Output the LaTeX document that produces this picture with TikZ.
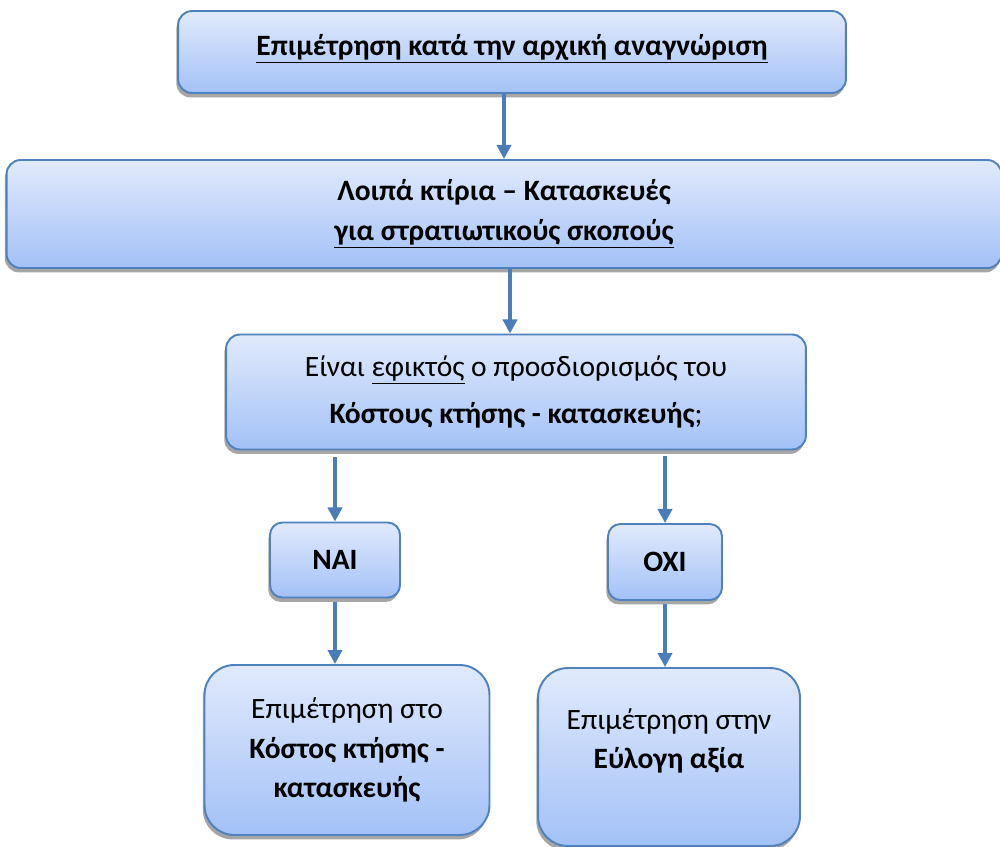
\documentclass[tikz,border=0pt]{standalone}
\usepackage{fontspec}
\setmainfont{Carlito}
\usepackage{tikz}
\usetikzlibrary{arrows.meta,shadows}

\definecolor{boxtop}{HTML}{E1EAFC}
\definecolor{boxbottom}{HTML}{A3C1F7}
\definecolor{boxline}{HTML}{4F81BD}
\definecolor{arrowblue}{HTML}{4A7EBB}

\begin{document}
\begin{tikzpicture}[x=0.02cm,y=-0.02cm]
    \tikzstyle{box}=[rectangle,rounded corners=8pt,draw=boxline,line width=1.1pt,
        top color=boxtop,bottom color=boxbottom,align=center,inner sep=0pt,
        font=\fontsize{16.8}{23}\selectfont,
        drop shadow={shadow xshift=-1pt,shadow yshift=-2.5pt,opacity=0.35,fill=black}]
    \tikzstyle{small box}=[box,rounded corners=7pt]
    \tikzstyle{result box}=[box,rounded corners=17pt,font=\fontsize{16.8}{22.3}\selectfont]
    \tikzstyle{flow}=[-{Triangle[width=8pt,length=8pt]},line width=2.3pt,draw=arrowblue]

    \useasboundingbox (0,0) rectangle (1000,846);

    % top of the chart
    \node[box,minimum width=13.36cm,minimum height=1.64cm,text depth=0.3cm] (start) at (512,52)
        {\textbf{\underline{Επιμέτρηση κατά την αρχική αναγνώριση}}};
    \node[box,minimum width=19.9cm,minimum height=2.16cm] (other) at (504,214)
        {\textbf{Λοιπά κτίρια – Κατασκευές}\\ \textbf{\underline{για στρατιωτικούς σκοπούς}}};
    \node[box,minimum width=11.6cm,minimum height=2.3cm,font=\fontsize{16.8}{27}\selectfont] (cost) at (516,392)
        {Είναι \underline{εφικτός} ο προσδιορισμός του\\ \textbf{Κόστους κτήσης - κατασκευής};};

    % the two answers
    \node[small box,minimum width=2.6cm,minimum height=1.5cm] (yes) at (335,560) {\textbf{ΝΑΙ}};
    \node[small box,minimum width=2.28cm,minimum height=1.52cm] (no) at (665,562) {\textbf{ΟΧΙ}};

    % where each answer leads
    \node[result box,minimum width=5.7cm,minimum height=3.4cm] (atcost) at (347,750)
        {Επιμέτρηση στο\\ \textbf{Κόστος κτήσης -}\\ \textbf{κατασκευής}};
    \node[result box,minimum width=5.24cm,minimum height=3.56cm,text depth=0.75cm] (fair) at (669,757)
        {Επιμέτρηση στην\\ \textbf{Εύλογη αξία}};

    % Connect the boxes
    \draw[flow] (start.south -| other.north) -- (other.north);
    \draw[flow] (other.south -| 510,0) -- (cost.north -| 510,0);
    \draw[flow,shorten <=4pt] (cost.south -| yes.north) -- (yes.north);
    \draw[flow,shorten <=3pt] (cost.south -| no.north) -- (no.north);
    \foreach \source/\dest in {yes/atcost,no/fair}
        \draw[flow,shorten <=2pt] (\source.south) -- (\source.south |- \dest.north);
\end{tikzpicture}
\end{document}
